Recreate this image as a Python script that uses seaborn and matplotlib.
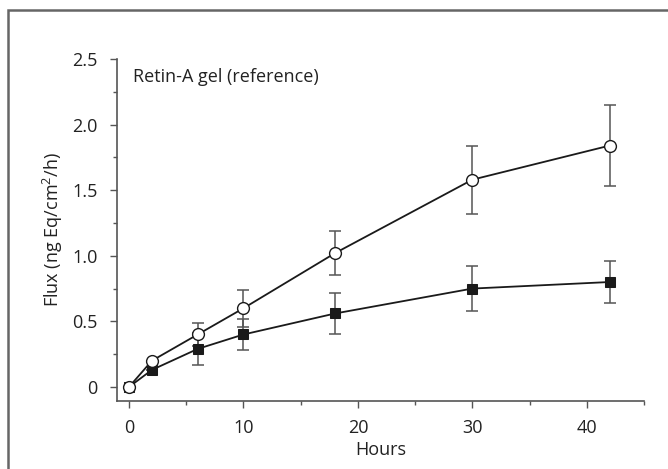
import matplotlib
matplotlib.use("Agg")
import matplotlib.pyplot as plt
import seaborn as sns
import pandas as pd
from matplotlib.patches import Rectangle

hours = [0, 2, 6, 10, 18, 30, 42]
open_vals = [0.0, 0.20, 0.40, 0.60, 1.02, 1.58, 1.84]
open_err = [0.0, 0.0, 0.09, 0.14, 0.17, 0.26, 0.31]
filled_vals = [0.0, 0.13, 0.29, 0.40, 0.56, 0.75, 0.80]
filled_err = [0.0, 0.0, 0.12, 0.12, 0.16, 0.17, 0.16]

sns.set_theme(style="ticks")
plt.rcParams['font.family'] = ['Open Sans', 'DejaVu Sans']
plt.rcParams['mathtext.default'] = 'regular'

fig = plt.figure(figsize=(6.68, 4.69), dpi=100)
ax = fig.add_axes([117/668, 68/469, (644-117)/668, (401-59)/469])

df_open = pd.DataFrame({"h": hours, "v": open_vals})
df_fill = pd.DataFrame({"h": hours, "v": filled_vals})

axc = "#555555"
ax.errorbar(hours, open_vals, yerr=open_err, fmt="none", ecolor=axc, elinewidth=1.1, capsize=4, capthick=1.1, zorder=1)
ax.errorbar(hours, filled_vals, yerr=filled_err, fmt="none", ecolor=axc, elinewidth=1.1, capsize=4, capthick=1.1, zorder=1)

sns.lineplot(data=df_fill, x="h", y="v", ax=ax, color="#1a1a1a", lw=1.3, marker="s",
             markersize=7, markerfacecolor="#1a1a1a", markeredgecolor="#1a1a1a", zorder=3)
sns.lineplot(data=df_open, x="h", y="v", ax=ax, color="#1a1a1a", lw=1.3, marker="o",
             markersize=8.5, markerfacecolor="white", markeredgecolor="#1a1a1a", markeredgewidth=1.0, zorder=4)

ax.set_xlim(-1.05, 45)
ax.set_ylim(-0.107, 2.5)
ax.set_xticks([0, 10, 20, 30, 40])
ax.set_xticks([5, 15, 25, 35, 45], minor=True)
ax.set_yticks([0, 0.5, 1.0, 1.5, 2.0, 2.5])
ax.set_yticklabels(["0", "0.5", "1.0", "1.5", "2.0", "2.5"])
ax.set_yticks([0.25, 0.75, 1.25, 1.75, 2.25], minor=True)

for s in ["top", "right"]:
    ax.spines[s].set_visible(False)
for s in ["left", "bottom"]:
    ax.spines[s].set_color(axc)
    ax.spines[s].set_linewidth(1.2)
ax.tick_params(which="major", length=5, width=1.0, color=axc, labelsize=13, labelcolor="#222222")
ax.tick_params(axis="y", which="major", pad=9)
ax.tick_params(axis="x", which="major", pad=8)
ax.tick_params(which="minor", length=3, width=1.0, color=axc)

ax.set_xlabel("Hours", fontsize=13, color="#222222", labelpad=3)
ax.set_ylabel("Flux (ng Eq/cm$^{2}$/h)", fontsize=13, color="#222222", labelpad=5)

ax.text(0.35, 2.36, "Retin-A gel (reference)", fontsize=13, color="#222222", va="center", ha="left")

fig.patches.append(Rectangle((8/668, -0.1), 1.2, 1 - 10/469 + 0.1, transform=fig.transFigure,
                             fill=False, edgecolor="#666666", linewidth=1.8))

fig.savefig("out.png", dpi=100)
